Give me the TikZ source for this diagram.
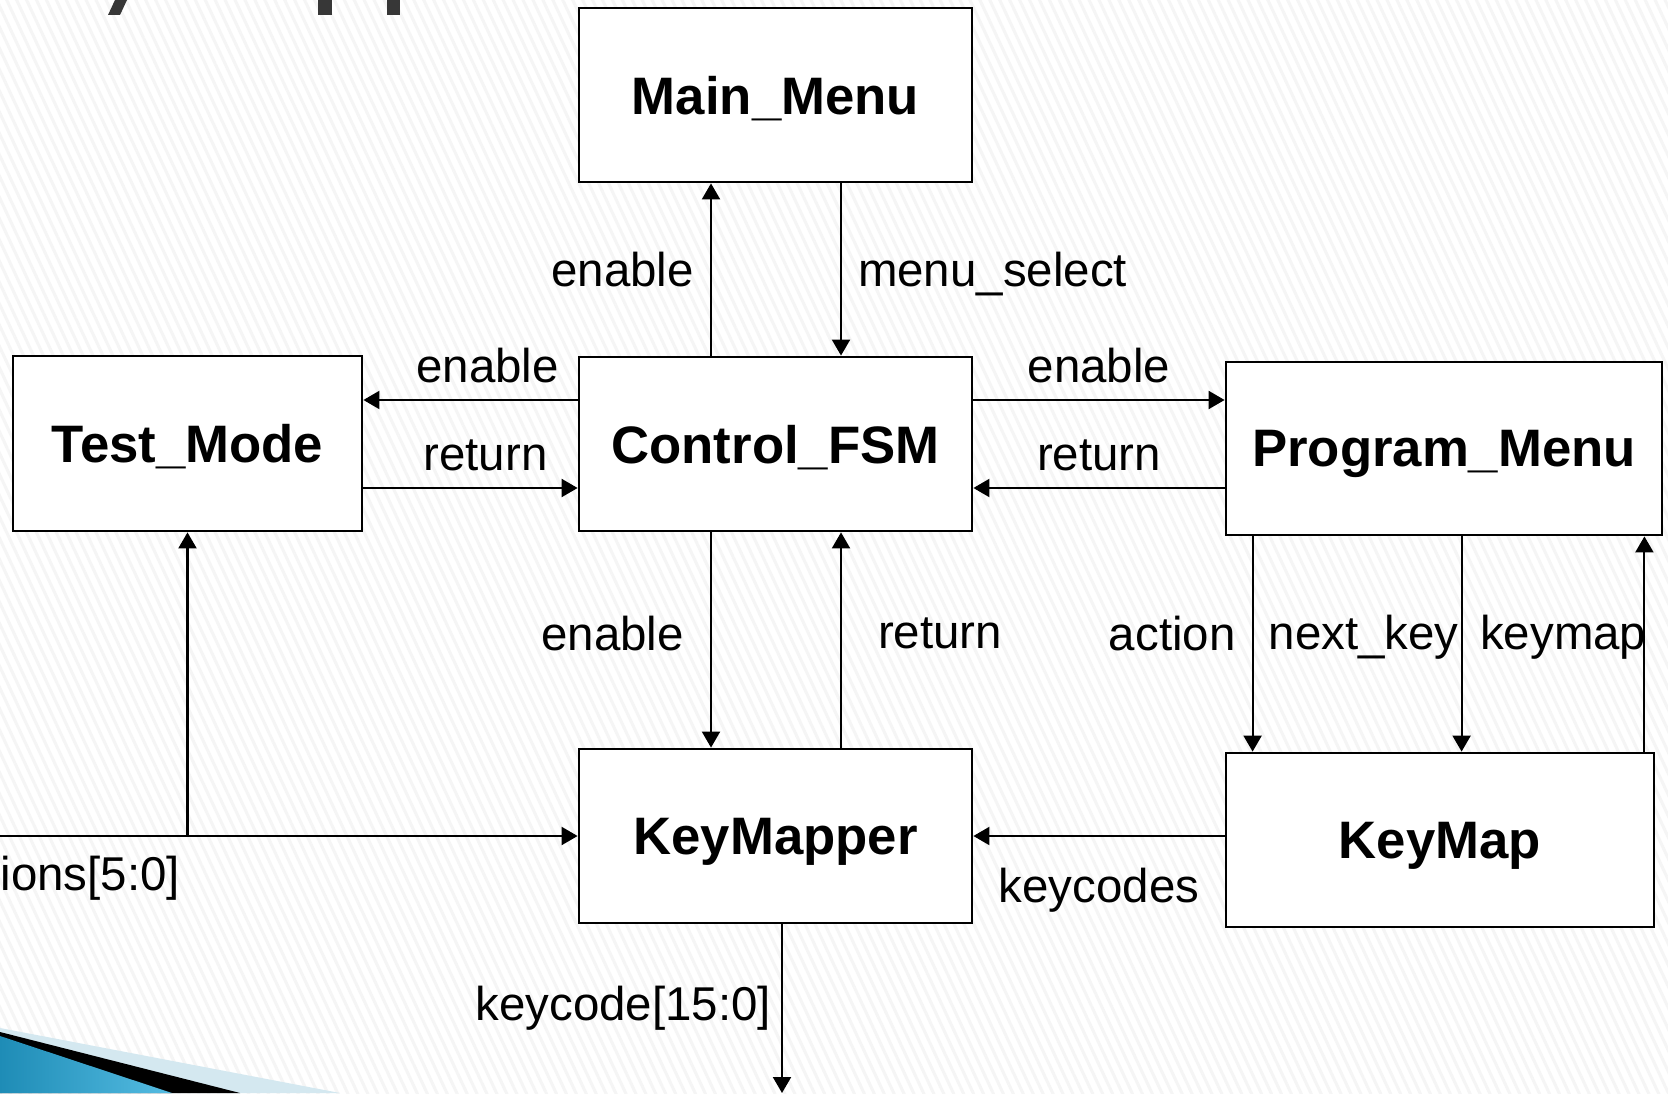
\documentclass[tikz,border=0pt]{standalone}
\usepackage{fontspec}
\setmainfont{Liberation Sans}
\usetikzlibrary{positioning, calc, arrows.meta, patterns.meta}

\definecolor{swooshdark}{RGB}{30,140,182}
\definecolor{swooshlight}{RGB}{85,188,226}
\definecolor{swooshpale}{RGB}{212,232,240}
\definecolor{titlegray}{RGB}{55,55,55}

\tikzset{
	block/.style={draw, line width=0.8pt, fill=white, inner sep=0pt, text depth=0pt, font=\bfseries\fontsize{15}{18}\selectfont},
	sig/.style={line width=0.6pt, -{Triangle[length=1.6mm, width=1.8mm]}},
	lbl/.style={font=\fontsize{13.5}{16}\selectfont, inner sep=1.6mm},
}

\begin{document}
\begin{tikzpicture}
	\useasboundingbox (0, 0) rectangle (16.68, 10.93);
	% slide background with faint stripes
	\fill[white] (0, 0) rectangle (16.68, 10.93);
	\fill[pattern={Lines[angle=-65, distance=0.9mm, line width=0.3mm]}, pattern color=black!4] (0, 0) rectangle (16.68, 10.93);
	% bottom of the cut-off title
	\fill[titlegray] (1.15, 10.93) -- (1.27, 10.93) -- (1.20, 10.78) -- (1.08, 10.78) --cycle;
	\fill[titlegray] (3.18, 10.78) rectangle (3.32, 10.93);
	\fill[titlegray] (3.87, 10.78) rectangle (4.00, 10.93);
	% swoosh in the corner
	\fill[swooshpale] (0, 0.65) -- (3.40, 0) -- (0, 0) --cycle;
	\fill[black] (0, 0.61) -- (2.40, 0) -- (0, 0) --cycle;
	\shade[left color=swooshdark, right color=swooshlight] (0, 0.57) -- (1.72, 0) -- (0, 0) --cycle;

	% blocks
	\node[block, minimum width=3.93cm, minimum height=1.74cm] (main) at (7.755, 9.98) {Main\_Menu};
	\node[block, minimum width=3.93cm, minimum height=1.74cm] (ctrl) at (7.755, 6.49) {Control\_FSM};
	\node[block, minimum width=3.49cm, minimum height=1.75cm] (test) at (1.875, 6.495) {Test\_Mode};
	\node[block, minimum width=4.36cm, minimum height=1.73cm] (prog) at (14.44, 6.445) {Program\_Menu};
	\node[block, minimum width=3.93cm, minimum height=1.74cm] (kmapper) at (7.755, 2.57) {KeyMapper};
	\node[block, minimum width=4.28cm, minimum height=1.74cm] (keymap) at (14.40, 2.53) {KeyMap};

	% Control_FSM and Main_Menu
	\draw[sig] ([xshift=-6.45mm]ctrl.north) -- ([xshift=-6.45mm]main.south) node[lbl, midway, left] {enable};
	\draw[sig] ([xshift=6.55mm]main.south) -- ([xshift=6.55mm]ctrl.north) node[lbl, midway, right, yshift=-0.5mm] {menu\_select};

	% Control_FSM and Test_Mode
	\coordinate (cwup) at ([yshift=4.4mm]ctrl.west);
	\coordinate (cwdn) at ([yshift=-4.4mm]ctrl.west);
	\draw[sig] (cwup) -- (cwup -| test.east) node[lbl, pos=0.42, above] {enable};
	\draw[sig] (cwdn -| test.east) -- (cwdn) node[lbl, pos=0.57, above] {return};

	% Control_FSM and Program_Menu
	\coordinate (ceup) at ([yshift=4.4mm]ctrl.east);
	\coordinate (cedn) at ([yshift=-4.4mm]ctrl.east);
	\draw[sig] (ceup) -- (ceup -| prog.west) node[lbl, midway, above] {enable};
	\draw[sig] (cedn -| prog.west) -- (cedn) node[lbl, midway, above] {return};

	% Control_FSM and KeyMapper
	\draw[sig] ([xshift=-6.45mm]ctrl.south) -- ([xshift=-6.45mm]kmapper.north) node[lbl, pos=0.47, left, xshift=-1mm] {enable};
	\draw[sig] ([xshift=6.55mm]kmapper.north) -- ([xshift=6.55mm]ctrl.south) node[lbl, pos=0.53, right, xshift=2mm] {return};

	% Program_Menu and KeyMap
	\coordinate (act) at ([xshift=2.8mm]prog.south west);
	\coordinate (nxt) at ([xshift=23.7mm]prog.south west);
	\coordinate (kmp) at ([xshift=-1.9mm]prog.south east);
	\draw[sig] (act) -- (act |- keymap.north) node[lbl, pos=0.45, left] {action};
	\draw[sig] (nxt) -- (nxt |- keymap.north) node[lbl, pos=0.47, anchor=east, inner sep=0.2mm] {next\_key};
	\draw[sig] (kmp |- keymap.north) -- (kmp) node[lbl, pos=0.53, anchor=east, inner sep=0pt, xshift=0.3mm] {keymap};

	% KeyMap to KeyMapper
	\draw[sig] (keymap.west |- kmapper.east) -- (kmapper.east) node[lbl, midway, below, yshift=-1.5mm] {keycodes};

	% inputs from the left edge
	\coordinate (btn) at (0, 2.57);
	\draw[sig] (btn) -- (kmapper.west);
	\draw[sig] (test.south |- kmapper.west) -- (test.south);
	\node[lbl, anchor=west, inner sep=0pt] (btnlbl) at (0, 2.15) {ions[5:0]};

	% output at the bottom
	\coordinate (kout) at (7.82, 0);
	\draw[sig] (kmapper.south -| kout) -- (kout) node[lbl, midway, left, inner sep=1mm] {keycode[15:0]};
\end{tikzpicture}
\end{document}
